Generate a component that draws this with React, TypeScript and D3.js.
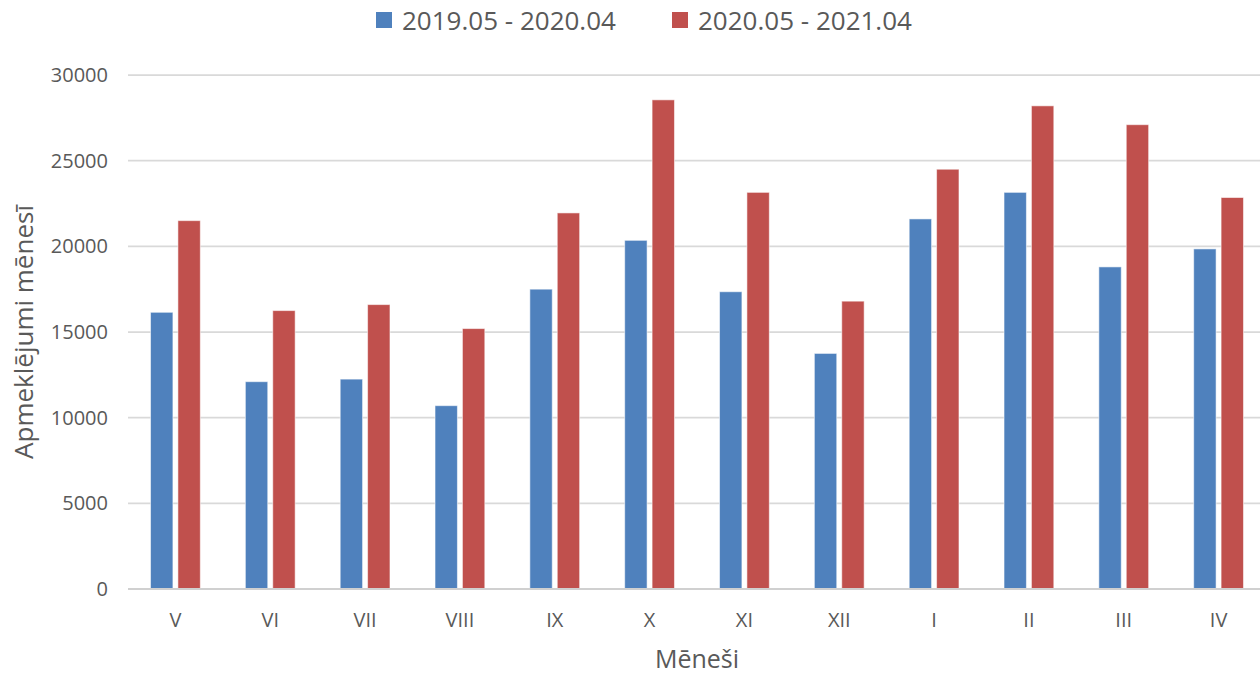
import { useEffect, useRef } from "react";
import * as d3 from "d3";

const months = ["V", "VI", "VII", "VIII", "IX", "X", "XI", "XII", "I", "II", "III", "IV"];
const seriesNames = ["2019.05 - 2020.04", "2020.05 - 2021.04"];
const visits2019 = [16150, 12100, 12250, 10700, 17500, 20350, 17350, 13750, 21600, 23150, 18800, 19850];
const visits2020 = [21500, 16250, 16600, 15200, 21950, 28550, 23150, 16800, 24500, 28200, 27100, 22850];
const yTicks = [0, 5000, 10000, 15000, 20000, 25000, 30000];
const colors = ["#4F81BD", "#C0504D"];

const W = 1260;
const H = 673;
const FONT = "'Open Sans', 'Noto Sans', sans-serif";

export default function App() {
    const svgRef = useRef<SVGSVGElement>(null);

    useEffect(() => {
        const svgEl = svgRef.current;
        if (!svgEl) return;
        const svg = d3.select(svgEl);
        svg.selectAll("*").remove();

        const margin = { top: 75, bottom: 84, left: 128 };
        // the plot area runs a little past the right edge of the picture
        const plotRight = 1266;

        const x0 = d3.scaleBand<string>()
            .domain(months)
            .range([margin.left, plotRight])
            .paddingInner(0.475)
            .paddingOuter(0.2375);

        const x1 = d3.scaleBand<string>()
            .domain(seriesNames)
            .range([0, x0.bandwidth()])
            .paddingInner(0.1825);

        const y = d3.scaleLinear()
            .domain([0, 30000])
            .range([H - margin.bottom, margin.top]);

        // gridlines
        svg.append("g")
            .selectAll("line")
            .data(yTicks)
            .join("line")
            .attr("x1", margin.left)
            .attr("x2", W)
            .attr("y1", (d) => y(d))
            .attr("y2", (d) => y(d))
            .attr("stroke", "#d9d9d9")
            .attr("stroke-width", 1.75);

        // y tick labels
        svg.append("g")
            .selectAll("text")
            .data(yTicks)
            .join("text")
            .attr("x", 108)
            .attr("y", (d) => y(d))
            .attr("dy", "0.35em")
            .attr("text-anchor", "end")
            .attr("font-family", FONT)
            .attr("font-size", 20)
            .attr("fill", "#595959")
            .text((d) => String(d));

        // bars
        const rows = months.map((m, i) => ({ m, vals: [visits2019[i], visits2020[i]] }));
        const groups = svg.append("g")
            .selectAll("g")
            .data(rows)
            .join("g")
            .attr("transform", (d) => `translate(${x0(d.m)},0)`);

        groups.selectAll("rect")
            .data((d) => d.vals.map((v, j) => ({ v, j })))
            .join("rect")
            .attr("x", (d) => x1(seriesNames[d.j]) as number)
            .attr("width", x1.bandwidth())
            .attr("y", (d) => y(d.v))
            .attr("height", (d) => y(0) - y(d.v))
            .attr("fill", (d) => colors[d.j])
            .attr("stroke", "rgba(255,255,255,0.55)")
            .attr("stroke-width", 1);

        // baseline
        svg.append("line")
            .attr("x1", margin.left)
            .attr("x2", W)
            .attr("y1", y(0))
            .attr("y2", y(0))
            .attr("stroke", "#d0d0d0")
            .attr("stroke-width", 2);

        // x tick labels
        svg.append("g")
            .selectAll("text")
            .data(months)
            .join("text")
            .attr("x", (d) => (x0(d) as number) + x0.bandwidth() / 2)
            .attr("y", 627)
            .attr("text-anchor", "middle")
            .attr("font-family", FONT)
            .attr("font-size", 20)
            .attr("fill", "#595959")
            .text((d) => d);

        // axis titles
        svg.append("text")
            .attr("x", 697)
            .attr("y", 668)
            .attr("text-anchor", "middle")
            .attr("font-family", FONT)
            .attr("font-size", 25)
            .attr("fill", "#595959")
            .text("Mēneši");

        svg.append("text")
            .attr("transform", "translate(33,332) rotate(-90)")
            .attr("text-anchor", "middle")
            .attr("font-family", FONT)
            .attr("font-size", 26)
            .attr("fill", "#595959")
            .text("Apmeklējumi mēnesī");

        // legend
        const legendX = [376, 672];
        const legend = svg.append("g")
            .selectAll("g")
            .data(seriesNames)
            .join("g")
            .attr("transform", (d, i) => `translate(${legendX[i]},0)`);

        legend.append("rect")
            .attr("x", 0)
            .attr("y", 12)
            .attr("width", 16)
            .attr("height", 16)
            .attr("fill", (d, i) => colors[i]);

        legend.append("text")
            .attr("x", 26)
            .attr("y", 30)
            .attr("font-family", FONT)
            .attr("font-size", 26)
            .attr("fill", "#595959")
            .text((d) => d);
    }, []);

    return (
        <svg
            ref={svgRef}
            width={W}
            height={H}
            style={{ position: "absolute", left: 0, top: 0, background: "#fff" }}
        />
    );
}
